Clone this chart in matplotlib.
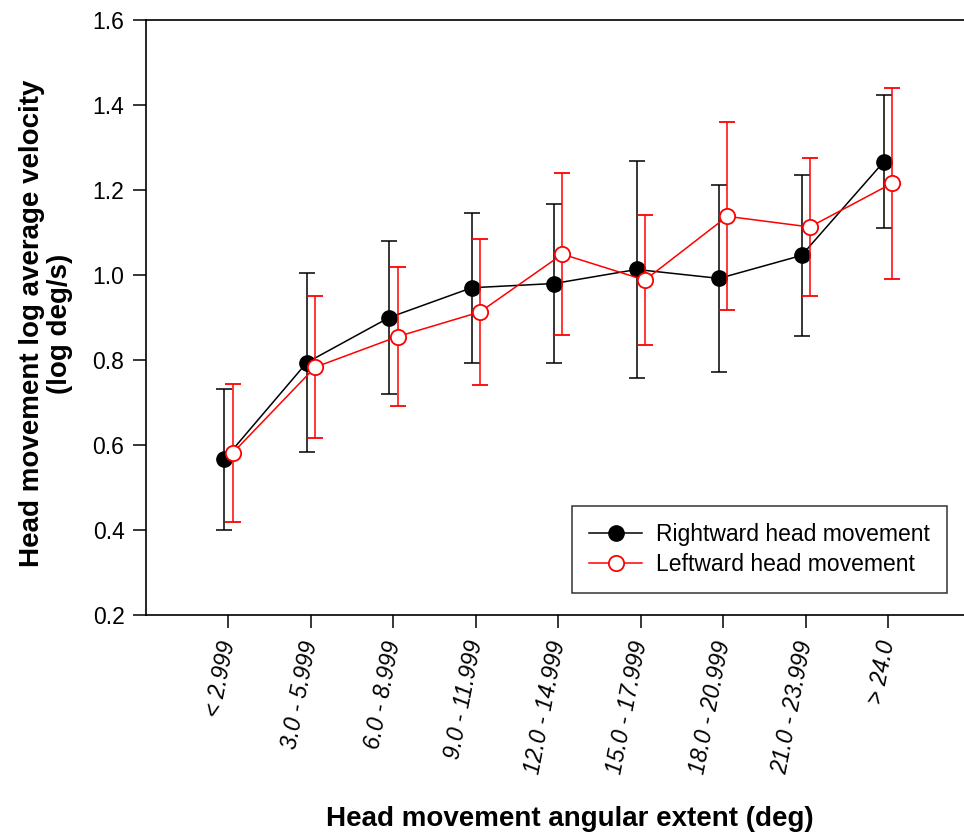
import matplotlib
matplotlib.use("Agg")
import matplotlib.pyplot as plt
from matplotlib.lines import Line2D
import numpy as np

plt.rcParams['font.family'] = ['Liberation Sans', 'DejaVu Sans']

categories = ["< 2.999", "3.0 - 5.999", "6.0 - 8.999", "9.0 - 11.999", "12.0 - 14.999",
              "15.0 - 17.999", "18.0 - 20.999", "21.0 - 23.999", "> 24.0"]
right_mean = [0.566, 0.794, 0.900, 0.970, 0.980, 1.013, 0.992, 1.046, 1.267]
right_err = [0.165, 0.211, 0.181, 0.177, 0.186, 0.255, 0.220, 0.190, 0.157]
left_mean = [0.581, 0.783, 0.855, 0.913, 1.049, 0.988, 1.138, 1.113, 1.216]
left_err = [0.162, 0.167, 0.164, 0.172, 0.191, 0.153, 0.221, 0.163, 0.225]

fig = plt.figure(figsize=(9.64, 8.34), dpi=100)
ax = fig.add_axes([146/964, 1 - 615/834, 1 - 146/964, (615 - 20)/834])

x = np.arange(len(categories))
ax.errorbar(x - 0.05, right_mean, yerr=right_err, color='black', lw=1.1,
            elinewidth=1.1, capsize=6, capthick=1.1, marker='o', ms=11,
            mfc='black', mec='black', zorder=2)
ax.errorbar(x + 0.05, left_mean, yerr=left_err, color='red', lw=1.1,
            elinewidth=1.1, capsize=6, capthick=1.1, marker='o', ms=11,
            mfc='white', mec='red', mew=1.3, zorder=3)

ax.set_xlim(-1.0, 8.92)
ax.set_ylim(0.2, 1.6)
yt = np.arange(0.2, 1.61, 0.2)
ax.set_yticks(yt)
ax.set_yticklabels([f"{v:.1f}" for v in yt], fontsize=16.5)
ax.set_xticks(x)
ax.set_xticklabels(categories, rotation=79, ha='right', rotation_mode='anchor',
                   fontsize=16.5, fontstyle='italic', va='center')
ax.tick_params(axis='both', direction='out', length=9.5, width=1.1)
ax.tick_params(axis='x', pad=9)
ax.tick_params(axis='y', pad=6)
for s in ['left', 'bottom', 'top']:
    ax.spines[s].set_linewidth(1.2)
ax.spines['right'].set_visible(False)

ax.set_xlabel("Head movement angular extent (deg)", fontsize=20, fontweight='bold',
              labelpad=22, x=(570 - 146) / 818)
ax.set_ylabel("Head movement log average velocity\n(log deg/s)", fontsize=20,
              fontweight='bold', labelpad=14, linespacing=1.1, y=0.49)

handles = [
    Line2D([], [], color='black', lw=1.1, marker='o', ms=11, mfc='black', mec='black'),
    Line2D([], [], color='red', lw=1.1, marker='o', ms=11, mfc='white', mec='red', mew=1.3),
]
labels = ['Rightward head movement', 'Leftward head movement']
leg = ax.legend(handles, labels, loc='lower right', bbox_to_anchor=(0.979, 0.037),
                borderaxespad=0, fontsize=16.5, frameon=True, fancybox=False,
                edgecolor='black', handlelength=2.3, labelspacing=0.3, borderpad=0.75,
                handletextpad=0.6)
leg.get_frame().set_linewidth(1.1)

fig.savefig("out.png", dpi=100)
